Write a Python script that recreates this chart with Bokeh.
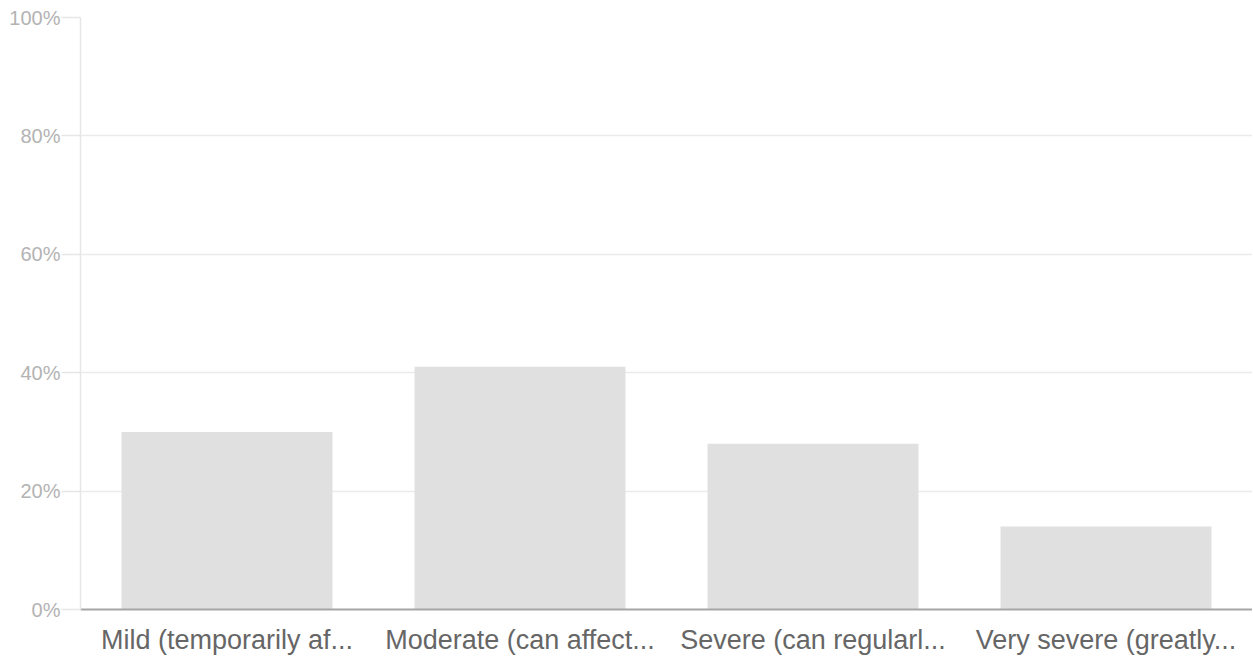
from bokeh.plotting import figure
from bokeh.models import ColumnDataSource, FixedTicker, PrintfTickFormatter, Range1d
from bokeh.embed import file_html
from bokeh.resources import INLINE

categories = ["Mild (temporarily af...", "Moderate (can affect...", "Severe (can regularl...", "Very severe (greatly..."]
values = [30, 41, 28, 14]
y_ticks = [0, 20, 40, 60, 80, 100]

src = ColumnDataSource(data=dict(cat=categories, val=values))

p = figure(x_range=categories, y_range=Range1d(0, 100), width=1252, height=660,
           output_backend="svg", toolbar_location=None,
           min_border_left=80, min_border_right=0, min_border_top=17, min_border_bottom=51)
p.vbar(x="cat", top="val", width=0.72, source=src, fill_color="#e0e0e0", line_color=None)

p.outline_line_color = None
p.background_fill_color = "white"
p.border_fill_color = "white"

p.xgrid.grid_line_color = None
p.ygrid.grid_line_color = "#ebebeb"
p.ygrid.grid_line_width = 1.5

p.yaxis.ticker = FixedTicker(ticks=y_ticks)
p.yaxis.formatter = PrintfTickFormatter(format="%d%%")
p.yaxis.axis_line_color = "#e6e6e6"
p.yaxis.axis_line_width = 1.5
p.yaxis.major_tick_line_color = "#e6e6e6"
p.yaxis.major_tick_line_width = 1.5
p.yaxis.major_tick_out = 19
p.yaxis.major_tick_in = 0
p.yaxis.minor_tick_line_color = None
p.yaxis.major_label_standoff = 1
p.yaxis.major_label_text_font = "Liberation Sans"
p.yaxis.major_label_text_font_size = "20px"
p.yaxis.major_label_text_color = "#b3b3b3"

p.xaxis.axis_line_color = "#a6a6a6"
p.xaxis.axis_line_width = 2
p.xaxis.major_tick_line_color = None
p.xaxis.minor_tick_line_color = None
p.xaxis.major_tick_out = 0
p.xaxis.major_tick_in = 0
p.xaxis.major_label_standoff = 15
p.xaxis.major_label_text_font = "Liberation Sans"
p.xaxis.major_label_text_font_size = "27px"
p.xaxis.major_label_text_color = "#666666"

open("out.html", "w").write(file_html(p, INLINE))
